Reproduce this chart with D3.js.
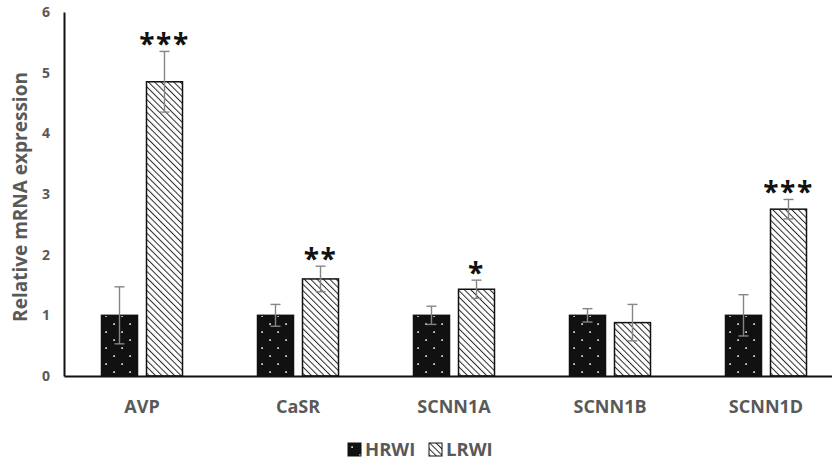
<!DOCTYPE html>
<html>
<head>
<meta charset="utf-8">
<script src="https://cdn.jsdelivr.net/npm/d3@7"></script>
<style>
  html, body { margin: 0; padding: 0; background: #fff; }
  svg { display: block; }
  text { font-family: "Open Sans", "Liberation Sans", sans-serif; }
</style>
</head>
<body>
<svg id="chart" width="832" height="462"></svg>
<script>
// Relative mRNA expression per gene, two groups
const genes = ["AVP", "CaSR", "SCNN1A", "SCNN1B", "SCNN1D"];
const groups = ["HRWI", "LRWI"];
const hrwiMean = [1.0, 1.0, 1.0, 1.0, 1.0];
const hrwiErr = [0.47, 0.18, 0.15, 0.11, 0.34];
const lrwiMean = [4.85, 1.6, 1.43, 0.88, 2.75];
const lrwiErr = [0.5, 0.21, 0.15, 0.3, 0.16];
const significance = ["***", "**", "*", "", "***"];
const yTicks = [0, 1, 2, 3, 4, 5, 6];

const svg = d3.select("#chart");
const grey = "#595959";

// Fill patterns
const defs = svg.append("defs");
const dots = defs.append("pattern")
  .attr("id", "dots").attr("patternUnits", "userSpaceOnUse")
  .attr("width", 16).attr("height", 16);
dots.append("rect").attr("width", 16).attr("height", 16).attr("fill", "#111");
dots.append("rect").attr("x", 3.3).attr("y", 3.3).attr("width", 1.6).attr("height", 1.6).attr("fill", "#fff");
dots.append("rect").attr("x", 11.3).attr("y", 11.3).attr("width", 1.6).attr("height", 1.6).attr("fill", "#fff");

const hatch = defs.append("pattern")
  .attr("id", "hatch").attr("patternUnits", "userSpaceOnUse")
  .attr("width", 4.5).attr("height", 4.5)
  .attr("patternTransform", "rotate(-45)");
hatch.append("rect").attr("width", 4.5).attr("height", 4.5).attr("fill", "#fff");
hatch.append("line").attr("x1", 0).attr("y1", 0).attr("x2", 0).attr("y2", 4.5)
  .attr("stroke", "#2a2a2a").attr("stroke-width", 2);

const fills = { HRWI: "url(#dots)", LRWI: "url(#hatch)" };

const x0 = d3.scaleBand().domain(genes).range([64, 844]);
const x1 = d3.scaleBand().domain(groups).range([-40.5, 40.5]).paddingInner(0.2);
const y = d3.scaleLinear().domain([0, 6]).range([376, 12]);

const rows = genes.map((g, i) => ({
  gene: g,
  bars: [
    { group: "HRWI", v: hrwiMean[i], e: hrwiErr[i], sig: "" },
    { group: "LRWI", v: lrwiMean[i], e: lrwiErr[i], sig: significance[i] }
  ]
}));

// Y axis
const yAxis = svg.append("g").attr("transform", "translate(64,0)")
  .call(d3.axisLeft(y).tickValues(yTicks).tickSize(0).tickPadding(14).tickFormat(d3.format("d")));
yAxis.select(".domain").attr("stroke", "#111").attr("stroke-width", 2);
yAxis.selectAll("text").attr("fill", grey).attr("font-size", 14).attr("font-weight", 700);

// Bars
const gg = svg.append("g").selectAll("g").data(rows).join("g")
  .attr("transform", d => `translate(${x0(d.gene) + x0.bandwidth() / 2},0)`);

gg.selectAll("rect.bar").data(d => d.bars).join("rect")
  .attr("class", "bar")
  .attr("x", d => x1(d.group))
  .attr("width", x1.bandwidth())
  .attr("y", d => y(d.v))
  .attr("height", d => y(0) - y(d.v))
  .attr("fill", d => fills[d.group])
  .attr("stroke", "#111").attr("stroke-width", 1.5);

// Error bars
const eb = gg.selectAll("g.err").data(d => d.bars).join("g").attr("class", "err")
  .attr("transform", d => `translate(${x1(d.group) + x1.bandwidth() / 2},0)`)
  .attr("stroke", "#858585").attr("stroke-width", 1.4);
eb.append("line").attr("y1", d => y(d.v + d.e)).attr("y2", d => y(d.v - d.e));
eb.append("line").attr("x1", -5).attr("x2", 5).attr("y1", d => y(d.v + d.e)).attr("y2", d => y(d.v + d.e));
eb.append("line").attr("x1", -5).attr("x2", 5).attr("y1", d => y(d.v - d.e)).attr("y2", d => y(d.v - d.e));

// Significance marks
gg.selectAll("text.sig").data(d => d.bars.filter(b => b.sig)).join("text")
  .attr("class", "sig")
  .attr("x", d => x1(d.group) + x1.bandwidth() / 2)
  .attr("y", d => y(d.v + d.e) + 3)
  .attr("text-anchor", "middle")
  .attr("font-family", "'DejaVu Sans', sans-serif")
  .attr("font-size", 28).attr("font-weight", 700).attr("fill", "#111")
  .attr("letter-spacing", 1.5)
  .text(d => d.sig);

// X axis
const xAxis = svg.append("g").attr("transform", "translate(0,376)")
  .call(d3.axisBottom(x0).tickSize(0).tickPadding(24));
xAxis.select(".domain").attr("stroke", "#111").attr("stroke-width", 2);
xAxis.selectAll("text").attr("fill", grey).attr("font-size", 18).attr("font-weight", 700);

// Y axis title
svg.append("text")
  .attr("transform", "translate(27,197) rotate(-90)")
  .attr("text-anchor", "middle")
  .attr("fill", grey).attr("font-size", 19).attr("font-weight", 700)
  .text("Relative mRNA expression");

// Legend
const legend = svg.append("g").attr("transform", "translate(348,443)");
const items = legend.selectAll("g").data(groups).join("g")
  .attr("transform", (d, i) => `translate(${i * 81},0)`);
items.append("rect").attr("width", 13).attr("height", 13)
  .attr("fill", d => fills[d]).attr("stroke", "#111").attr("stroke-width", 1);
items.append("text").attr("x", 17).attr("y", 13)
  .attr("fill", grey).attr("font-size", 18.5).attr("font-weight", 700)
  .text(d => d);
</script>
</body>
</html>
